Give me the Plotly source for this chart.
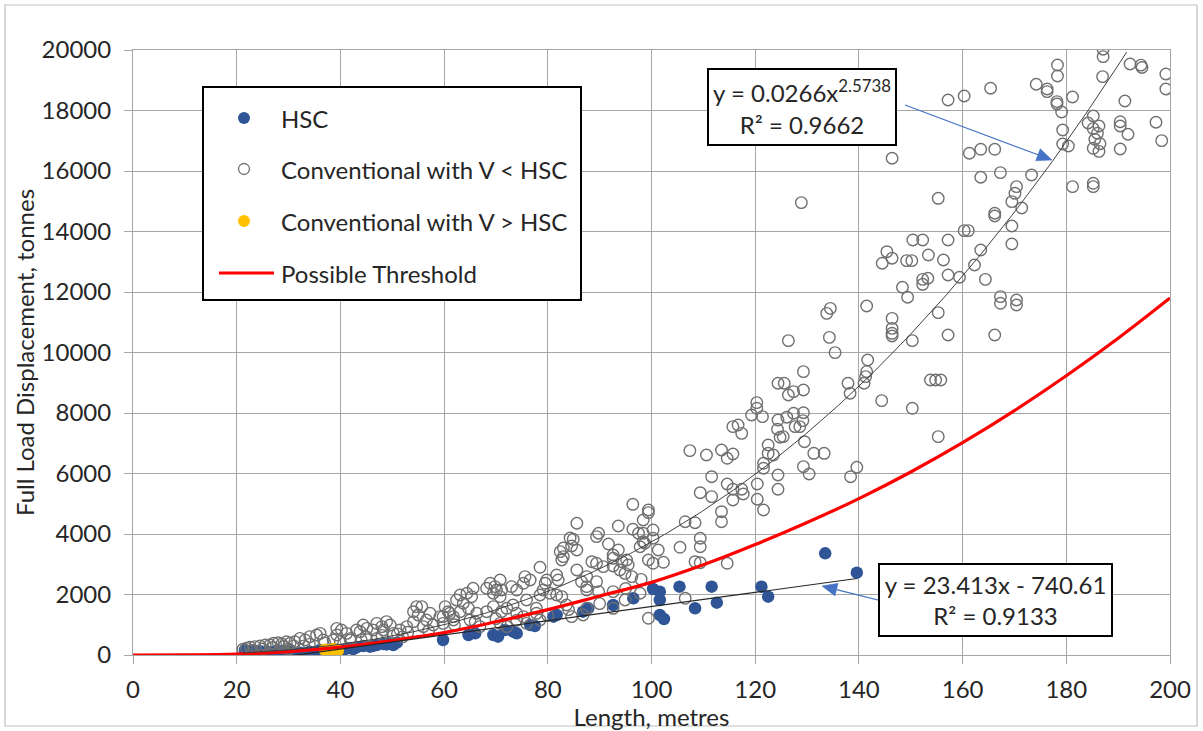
import numpy as np
import plotly.graph_objects as go

# ---------------- data ----------------
hsc_x = [21.6, 22.6, 23.5, 24.5, 25.8, 26.8, 27.7, 28.9, 30.3, 30.9, 32.2, 33.0, 34.1, 35.2, 36.1, 37.4,
         38.6, 39.5, 40.6, 41.9, 42.5, 43.1, 44.4, 45.7, 46.3, 47.0, 48.3, 48.9, 49.6, 50.2, 50.9, 59.8,
         64.7, 66.0, 69.5, 70.4, 71.7, 73.3, 74.0, 76.6, 77.5, 81.1, 81.7, 86.8, 87.8, 92.6, 96.5,
         100.3, 101.6, 101.6, 105.4, 111.6, 108.4, 112.6, 121.2, 122.5, 133.5, 139.6, 101.6, 102.4]
hsc_y = [165, 110, 143, 120, 110, 90, 143, 130, 165, 55, 77, 60, 110, 100, 165, 143,
         188, 150, 165, 221, 200, 254, 298, 276, 300, 331, 364, 350, 386, 331, 407, 496,
         661, 716, 661, 606, 826, 771, 716, 992, 959, 1268, 1322, 1432, 1543, 1653, 1874,
         2182, 2094, 1818, 2259, 2259, 1544, 1730, 2259, 1929, 3361, 2722, 1322, 1190]

conv_lt_x = [
    187.1, 187.1, 178.3, 178.3, 192.3, 194.4, 194.6, 199.2, 199.2, 187.0, 174.2, 176.3, 176.3, 181.2,
    191.3, 178.2, 178.2, 179.1, 185.2, 184.2, 186.3, 185.2, 186.0, 185.5, 186.5, 185.2, 186.3, 190.4,
    190.4, 191.9, 190.4, 197.3, 198.4, 179.3, 179.3, 180.4, 185.2, 185.2, 181.2, 173.3, 170.4, 170.1,
    169.5, 171.4, 166.2, 166.2, 169.5, 169.5, 167.3, 163.5, 166.2, 163.5, 161.3, 165.4, 160.3, 157.2,
    146.4, 155.3, 160.3, 161.1, 163.5, 162.3, 164.4, 159.4, 157.2, 157.2, 156.3, 153.4, 150.4, 152.3,
    145.4, 146.4, 144.5, 149.2, 150.2, 152.3, 153.3, 152.3, 148.4, 149.4, 155.3, 157.2, 150.3, 146.4,
    146.4, 146.4, 146.4, 167.3, 167.3, 170.4, 170.4, 166.2, 141.5, 141.7, 141.5, 141.3, 141.0, 153.8,
    154.8, 155.8, 144.4, 150.3, 155.3,
    126.4, 134.3, 135.4, 129.3, 124.4, 125.6, 129.3, 126.4, 127.4, 120.3, 120.3, 121.4, 119.3, 124.4,
    126.1, 127.4, 129.3, 129.2, 127.7, 128.6, 124.3, 125.4, 124.8, 129.5, 115.7, 116.7, 117.4, 122.5,
    122.5, 123.5, 121.6, 121.6, 131.3, 133.3, 107.4, 110.6, 113.5, 114.6, 115.7, 129.3, 130.4, 138.4,
    139.6, 124.4, 124.4, 120.4, 120.4, 121.6, 111.6, 109.4, 111.6, 114.6, 115.7, 115.7, 117.4, 117.7,
    113.5, 113.5, 106.5, 108.4, 109.4, 109.4, 105.5, 108.4, 109.4, 114.6, 99.4, 99.4, 98.4, 100.3,
    98.4, 100.3, 98.7, 101.3, 99.4, 100.3, 102.3, 97.8, 106.5, 99.4, 128.9, 133.8, 134.5, 137.9, 138.3,
    96.4, 85.6, 93.6, 89.8, 89.4, 96.4, 97.5, 98.4, 97.8, 91.7, 93.6, 92.6, 84.9, 84.6, 85.6, 82.4,
    83.0, 82.7, 88.5, 89.4, 90.7, 92.6, 94.3, 95.2, 95.5, 92.6, 93.9, 94.9, 96.2, 78.5, 81.7, 82.0,
    85.6, 87.5, 86.5, 89.4, 87.5, 89.8, 87.5, 75.6, 76.6, 75.3, 74.0, 73.0, 70.8, 69.8, 71.1, 69.5,
    68.2, 79.8, 79.5, 80.4, 78.5, 79.1, 81.7, 82.7, 83.6, 84.6, 86.8, 87.5, 92.6, 94.9, 92.6,
    65.6, 64.4, 65.3, 63.1, 62.4, 63.7, 64.7, 63.1, 61.1, 60.2, 59.8, 61.8, 65.0, 66.3, 68.2, 69.5,
    72.1, 73.3, 75.9, 74.0, 77.8, 77.8, 75.3, 71.1, 70.8, 70.1, 68.9, 66.9, 72.1, 70.8, 75.9, 78.5,
    54.7, 55.7, 54.1, 55.0, 57.3, 56.6, 59.2, 60.8, 61.8, 59.8, 57.9, 56.0, 54.1, 52.8, 51.5, 48.9,
    49.6, 48.0, 47.0, 46.3, 45.1, 44.4, 43.8, 43.1, 48.3, 50.2, 39.3, 40.2, 39.3, 41.2, 38.6, 41.9,
    35.4, 36.1, 34.1, 33.2, 32.2, 36.7, 31.2, 30.3, 29.6, 28.7, 28.0, 27.1, 26.4, 25.5, 24.5, 23.5,
    22.6, 21.9, 21.2, 30.0, 33.0, 37.0, 42.0, 45.0, 48.0, 51.0, 53.0,
    23.0, 25.0, 27.0, 29.0, 31.0, 34.0, 40.0, 44.0, 47.0, 52.0, 57.0, 62.0, 66.0, 70.0, 74.0, 80.0,
    84.0, 90.0, 95.0, 98.0, 84.3, 83.0]
conv_lt_y = [
    20024, 19780, 19505, 19141, 19538, 19500, 19420, 19207, 18712, 19120, 18866, 18712, 18623, 18447,
    18315, 18293, 18216, 17951, 17819, 17588, 17489, 17400, 17250, 17050, 16900, 16750, 16650, 17630,
    17489, 17214, 16728, 17611, 17003, 17356, 16893, 16827, 15593, 15482, 15482, 15868, 15482, 15262,
    14987, 14778, 14602, 14513, 14183, 13588, 15945, 15792, 16717, 16717, 16585, 18735, 18481, 18348,
    16420, 15097, 14028, 14028, 13389, 12893, 12419, 12486, 12562, 13720, 13059, 13224, 13720, 13720,
    13333, 13114, 12949, 13036, 13036, 12419, 12453, 12254, 12157, 11826, 11317, 10579, 10391, 11129,
    10799, 10634, 10545, 11846, 11626, 11736, 11571, 10579, 11538, 9753, 9367, 9202, 8982, 9092,
    9092, 9092, 8408, 8155, 7218,
    10391, 10501, 9995, 9367, 8982, 8982, 8761, 8596, 8706, 8342, 8155, 7880, 7935, 7769,
    7858, 7990, 8010, 7748, 7549, 7549, 7461, 7218, 7197, 7052, 7549, 7604, 7328, 6943,
    6667, 6612, 6337, 6172, 6667, 6667, 6756, 6612, 6777, 6502, 6645, 6226, 5984, 5895,
    6205, 5951, 5478, 5653, 5147, 4794, 5895, 5366, 5234, 5653, 5478, 5124, 5478, 5322,
    4738, 4407, 4407, 4374, 3858, 3580, 3560, 3085, 3052, 3031, 4794, 4705, 4463, 4133,
    4023, 3858, 3693, 3471, 3140, 3031, 3064, 2040, 1874, 1213, 14953, 11295, 11460, 8982, 8652,
    4981, 4354, 4265, 4023, 3913, 4156, 4023, 3746, 3580, 3669, 3471, 3306, 3824, 3603, 3471, 3416,
    3251, 3140, 3085, 3031, 2920, 3196, 3085, 3140, 2975, 2942, 2810, 2700, 2590, 2899, 2645, 2480,
    2810, 2590, 2424, 2424, 2259, 2094, 2149, 2590, 2480, 2370, 2149, 2259, 2480, 2259, 2149, 2040,
    2205, 2480, 2370, 2040, 1984, 2149, 1984, 1929, 1653, 1268, 1322, 1543, 2094, 1818, 1543,
    2205, 2040, 1929, 1984, 1818, 1709, 1543, 1432, 1378, 1598, 1268, 1157, 1157, 1378, 1432, 1598,
    1543, 1653, 1818, 1378, 1543, 1378, 1268, 1432, 1929, 2149, 2370, 937, 937, 1047, 1047, 1157,
    1598, 1598, 1432, 1322, 1378, 1157, 1268, 1432, 1268, 1047, 992, 937, 1102, 937, 827, 1102,
    992, 937, 1047, 827, 881, 992, 771, 827, 827, 716, 881, 827, 661, 716, 496, 496,
    661, 716, 606, 496, 551, 496, 440, 386, 440, 364, 407, 386, 331, 331, 298, 276,
    254, 221, 188, 200, 300, 400, 550, 600, 650, 700, 750,
    150, 200, 250, 280, 300, 350, 450, 500, 550, 600, 800, 1000, 1100, 1200, 1150, 1300,
    1500, 1700, 2200, 2500, 3867, 3537]

conv_gt_x = [37.0, 37.8, 38.7, 39.5]
conv_gt_y = [170, 140, 200, 150]

thr_x = [0, 10, 20, 30, 40, 50, 60, 70, 80, 90, 100, 110, 120, 130, 140, 150, 160, 170, 180, 190, 200]
thr_y = [0, 5, 30, 110, 260, 480, 740, 1100, 1500, 1950, 2400, 2980, 3650, 4380, 5170, 6050, 7020,
         8080, 9230, 10470, 11800]

# trendline equations as printed on the chart
pow_a, pow_b = 0.0266, 2.5738
lin_m, lin_c = 23.413, -740.61

x_title = "Length, metres"
y_title = "Full Load Displacement, tonnes"

# ---------------- layout helpers ----------------
W, H = 1203, 731
L, R, T, B = 133, 1170, 50, 655
PW, PH = R - L, B - T


def px(x):
    return (x - L) / PW


def py(y):
    return (B - y) / PH


FONT = "Lato"
TXT = "#262626"
GRID = "#A6A6A6"
BLUE = "#2F5597"
GRAY = "#707070"
GOLD = "#FFC000"
ARROW = "#4472C4"
FS = 24

fig = go.Figure()

fig.add_trace(go.Scatter(x=hsc_x, y=hsc_y, mode="markers", name="HSC",
                         marker=dict(size=12.5, color=BLUE, line=dict(width=0))))
fig.add_trace(go.Scatter(x=conv_lt_x, y=conv_lt_y, mode="markers", name="Conventional with V < HSC",
                         marker=dict(size=11.5, color="rgba(255,255,255,0)", symbol="circle",
                                     line=dict(width=1.4, color=GRAY))))
fig.add_trace(go.Scatter(x=conv_gt_x, y=conv_gt_y, mode="markers", name="Conventional with V > HSC",
                         marker=dict(size=12.5, color=GOLD, line=dict(width=0))))
fig.add_trace(go.Scatter(x=thr_x, y=thr_y, mode="lines", name="Possible Threshold",
                         line=dict(color="#FF0000", width=3.2, shape="spline", smoothing=1.0)))

# trendlines
tx = np.linspace(min(conv_lt_x), 200, 300)
ty = pow_a * tx ** pow_b
keep = ty <= 20000
fig.add_trace(go.Scatter(x=tx[keep], y=ty[keep], mode="lines", showlegend=False,
                         line=dict(color="#404040", width=1)))
lx = np.array([min(hsc_x), max(hsc_x)])
fig.add_trace(go.Scatter(x=lx, y=lin_m * lx + lin_c, mode="lines", showlegend=False,
                         line=dict(color="#262626", width=1.2)))

axis_common = dict(showgrid=True, gridcolor=GRID, gridwidth=1, showline=True, linecolor=GRID,
                   linewidth=1, mirror=True, zeroline=False, ticks="outside", ticklen=8,
                   tickcolor=GRID, tickformat="d", tickfont=dict(family=FONT, size=FS, color=TXT),
                   automargin=False)
fig.update_xaxes(range=[0, 200], dtick=20, tick0=0, ticklabelstandoff=5,
                 title=dict(text=x_title, standoff=2, font=dict(family=FONT, size=FS, color=TXT)),
                 **axis_common)
fig.update_yaxes(range=[0, 20000], dtick=2000, tick0=0, ticklabelstandoff=8,
                 title=dict(text=y_title, standoff=0, font=dict(family=FONT, size=FS, color=TXT)),
                 **axis_common)

shapes = []
annotations = []

# outer chart border
shapes.append(dict(type="rect", xref="paper", yref="paper", x0=px(5), x1=px(1197), y0=py(726), y1=py(5),
                   line=dict(color="#BFBFBF", width=1.2), layer="below"))

# custom legend
shapes.append(dict(type="rect", xref="paper", yref="paper", x0=px(203), x1=px(581), y0=py(300), y1=py(87),
                   line=dict(color="black", width=2), fillcolor="white", layer="above"))
leg_y = [118, 169, 221, 273]
leg_txt = ["HSC", "Conventional with V < HSC", "Conventional with V > HSC", "Possible Threshold"]


def dot(cy, r, fill, line_col, lw):
    return dict(type="circle", xref="paper", yref="paper", xsizemode="pixel", ysizemode="pixel",
                xanchor=px(244), yanchor=py(cy), x0=-r, x1=r, y0=-r, y1=r,
                fillcolor=fill, line=dict(color=line_col, width=lw), layer="above")


shapes.append(dot(leg_y[0], 6, BLUE, BLUE, 0))
shapes.append(dot(leg_y[1], 5.5, "white", GRAY, 1.3))
shapes.append(dot(leg_y[2], 6, GOLD, GOLD, 0))
shapes.append(dict(type="line", xref="paper", yref="paper", x0=px(219), x1=px(274), y0=py(273), y1=py(273),
                   line=dict(color="#FF0000", width=3.2), layer="above"))
for yy, t in zip(leg_y, leg_txt):
    annotations.append(dict(xref="paper", yref="paper", x=px(279), y=py(yy), xanchor="left", yanchor="middle",
                            text=t, showarrow=False, font=dict(family=FONT, size=FS, color=TXT)))

# equation boxes
annotations.append(dict(xref="paper", yref="paper", x=px(802), y=py(107), xanchor="center", yanchor="middle",
                        text=f"y = {pow_a}x<sup>{pow_b}</sup><br>R² = 0.9662", showarrow=False,
                        font=dict(family=FONT, size=FS, color=TXT), bgcolor="white",
                        bordercolor="black", borderwidth=2, borderpad=0, width=186, height=74))
annotations.append(dict(xref="paper", yref="paper", x=px(995.5), y=py(600), xanchor="center", yanchor="middle",
                        text=f"y = {lin_m}x - {abs(lin_c)}<br>R² = 0.9133", showarrow=False,
                        font=dict(family=FONT, size=FS, color=TXT), bgcolor="white",
                        bordercolor="black", borderwidth=2, borderpad=0, width=231, height=70))


# callout arrows (drawn as shapes: shaft + filled head), in pixel positions
def arrow(tail, tip, head_len=15, head_half=6.5):
    (x0, y0), (x1, y1) = tail, tip
    dx, dy = x1 - x0, y1 - y0
    n = (dx * dx + dy * dy) ** 0.5
    ux, uy = dx / n, dy / n
    bx, by = x1 - head_len * ux, y1 - head_len * uy
    qx, qy = -uy, ux
    p1 = (bx + head_half * qx, by + head_half * qy)
    p2 = (bx - head_half * qx, by - head_half * qy)
    out = [dict(type="line", xref="paper", yref="paper", x0=px(x0), y0=py(y0), x1=px(bx), y1=py(by),
                line=dict(color=ARROW, width=1.2), layer="above")]
    path = (f"M {px(x1)},{py(y1)} L {px(p1[0])},{py(p1[1])} "
            f"L {px(p2[0])},{py(p2[1])} Z")
    out.append(dict(type="path", xref="paper", yref="paper", path=path, fillcolor=ARROW,
                    line=dict(color=ARROW, width=0.5), layer="above"))
    return out


shapes += arrow((905, 105), (1052, 160))
shapes += arrow((922, 611), (822, 586))

fig.update_layout(width=W, height=H, margin=dict(l=L, r=W - R, t=T, b=H - B, autoexpand=False),
                  paper_bgcolor="white", plot_bgcolor="white", showlegend=False,
                  shapes=shapes, annotations=annotations, font=dict(family=FONT, color=TXT))

fig.write_html("out.html")
